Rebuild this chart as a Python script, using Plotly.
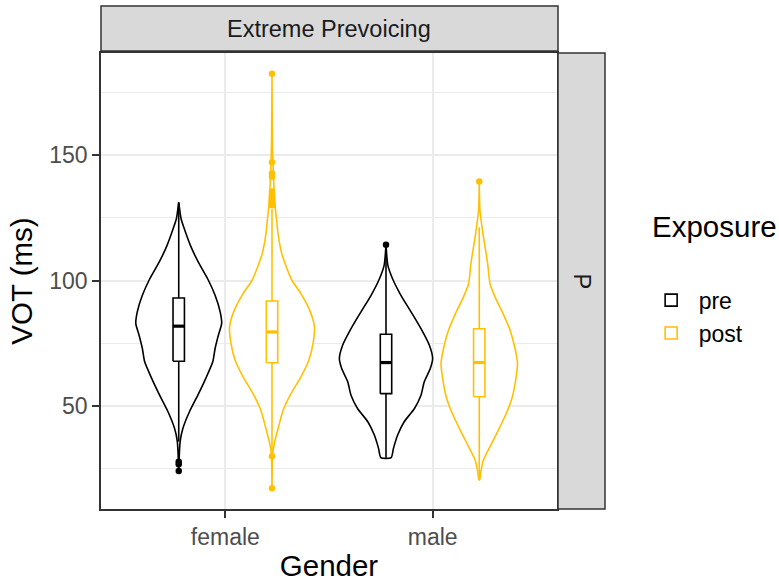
import plotly.graph_objects as go

# ---------------- data ----------------
genders = ["female", "male"]
exposures = ["pre", "post"]
line_colors = {"pre": "#000000", "post": "#FFC000"}

# violin outlines: VOT value (ms) and relative density (1 = widest violin)
female_pre_vot = [131.2, 124.6, 120.6, 114.0, 107.3, 100.7, 94.1, 87.4, 82.8, 78.2, 72.9, 67.6, 61.0, 54.3, 47.7, 41.1, 35.8, 24.1]
female_pre_den = [0.0, 0.05, 0.12, 0.25, 0.42, 0.62, 0.78, 0.89, 0.92, 0.85, 0.78, 0.73, 0.58, 0.41, 0.23, 0.09, 0.03, 0.0]

female_post_vot = [182.4, 150.4, 129.2, 123.9, 118.6, 110.7, 105.3, 100.0, 94.8, 88.1, 81.5, 74.9, 68.2, 61.6, 55.0, 48.4, 41.7, 35.1, 31.2, 17.2]
female_post_den = [0.0, 0.015, 0.07, 0.10, 0.13, 0.21, 0.31, 0.43, 0.62, 0.81, 0.91, 0.88, 0.79, 0.62, 0.41, 0.24, 0.14, 0.05, 0.015, 0.0]

male_pre_vot = [114.2, 106.0, 100.7, 94.1, 87.4, 80.8, 74.2, 68.9, 64.9, 59.6, 54.3, 49.0, 43.7, 38.4, 33.1, 29.4]
male_pre_den = [0.0, 0.04, 0.14, 0.32, 0.54, 0.75, 0.93, 1.0, 0.95, 0.82, 0.75, 0.61, 0.39, 0.25, 0.16, 0.11]

male_post_vot = [139.5, 127.9, 117.3, 106.7, 98.7, 93.4, 86.8, 80.2, 73.5, 66.9, 60.3, 53.7, 47.1, 40.4, 33.8, 28.5, 24.5, 20.5]
male_post_den = [0.0, 0.015, 0.09, 0.18, 0.23, 0.34, 0.51, 0.66, 0.76, 0.82, 0.78, 0.71, 0.58, 0.41, 0.23, 0.09, 0.04, 0.006]

# box statistics: [lower whisker, q1, median, q3, upper whisker]
female_pre_box = [35.8, 67.8, 81.8, 93.0, 130.8]
female_post_box = [31.0, 67.2, 79.5, 91.8, 128.5]
male_pre_box = [29.4, 54.9, 67.3, 78.6, 111.5]
male_post_box = [20.5, 53.7, 67.3, 80.8, 121.2]

# outliers
female_pre_out = [27.8, 26.8, 24.1]
female_post_out = [182.4, 147.1, 142.6, 141.3, 135.5, 134.3, 133.0, 131.5, 130.0, 30.0, 17.2]
male_pre_out = [114.2]
male_post_out = [139.5]

y_ticks = [50, 100, 150]
y_minor = [25, 75, 125, 175]

groups = {
    ("female", "pre"): (female_pre_vot, female_pre_den, female_pre_box, female_pre_out),
    ("female", "post"): (female_post_vot, female_post_den, female_post_box, female_post_out),
    ("male", "pre"): (male_pre_vot, male_pre_den, male_pre_box, male_pre_out),
    ("male", "post"): (male_post_vot, male_post_den, male_post_box, male_post_out),
}

# ---------------- styling ----------------
FONT = "Liberation Sans, Arial, sans-serif"
DODGE = {"pre": -0.225, "post": 0.225}
VIOLIN_HALF = 0.225
BOX_W = 0.055
LW = 1.6

fig = go.Figure()

def pos(g, e):
    return genders.index(g) + 1 + DODGE[e]

# legend box traces (drawn in the box layer, underneath the scatter layer)
for e in exposures:
    for g in genders:
        vot, den, box, out = groups[(g, e)]
        fig.add_trace(go.Box(x=[pos(g, e)], lowerfence=[box[0]], q1=[box[1]], median=[box[2]], q3=[box[3]],
                             upperfence=[box[4]], width=BOX_W, whiskerwidth=0, fillcolor="white",
                             line=dict(color=line_colors[e], width=LW), boxpoints=False,
                             name=e, legendgroup=e, showlegend=(g == "female"), hoverinfo="skip"))

# violins
for (g, e), (vot, den, box, out) in groups.items():
    c = pos(g, e)
    xs = [c + VIOLIN_HALF * d for d in den] + [c - VIOLIN_HALF * d for d in reversed(den)]
    ys = list(vot) + list(reversed(vot))
    xs.append(xs[0]); ys.append(ys[0])
    fig.add_trace(go.Scatter(x=xs, y=ys, mode="lines", fill="toself", fillcolor="white",
                             line=dict(color=line_colors[e], width=LW, shape="spline", smoothing=0.6),
                             showlegend=False, hoverinfo="skip"))

# boxplots drawn on top of violins
for (g, e), (vot, den, box, out) in groups.items():
    c = pos(g, e)
    col = line_colors[e]
    h = BOX_W / 2
    fig.add_trace(go.Scatter(x=[c, c, None, c, c], y=[box[0], box[1], None, box[3], box[4]], mode="lines",
                             line=dict(color=col, width=LW), showlegend=False, hoverinfo="skip"))
    fig.add_trace(go.Scatter(x=[c - h, c + h, c + h, c - h, c - h], y=[box[1], box[1], box[3], box[3], box[1]],
                             mode="lines", fill="toself", fillcolor="white",
                             line=dict(color=col, width=LW), showlegend=False, hoverinfo="skip"))
    fig.add_trace(go.Scatter(x=[c - h, c + h], y=[box[2], box[2]], mode="lines",
                             line=dict(color=col, width=3.2), showlegend=False, hoverinfo="skip"))
    fig.add_trace(go.Scatter(x=[c] * len(out), y=out, mode="markers",
                             marker=dict(color=col, size=6.5), showlegend=False))

all_vals = [v for k in groups for v in groups[k][0]]
lo, hi = min(all_vals), max(all_vals)
pad = (hi - lo) * 0.05

axis_common = dict(showline=True, linecolor="#333333", linewidth=1.5, mirror=True,
                   ticks="outside", ticklen=7, tickwidth=1.5, tickcolor="#333333",
                   showgrid=True, gridcolor="#EBEBEB", gridwidth=1.5, zeroline=False, automargin=False,
                   tickfont=dict(family=FONT, size=23, color="#4D4D4D"))

fig.update_layout(
    width=779, height=584,
    margin=dict(l=101, r=222, t=53, b=75),
    paper_bgcolor="white", plot_bgcolor="white",
    font=dict(family=FONT),
    xaxis=dict(range=[0.4, 2.6], tickmode="array", tickvals=[1, 2], ticktext=genders,
               title=dict(text="Gender", font=dict(family=FONT, size=29.5, color="#000000"), standoff=6),
               **axis_common),
    yaxis=dict(range=[lo - pad, hi + pad], tickmode="array", tickvals=y_ticks,
               minor=dict(tickvals=y_minor, showgrid=True, gridcolor="#EBEBEB", gridwidth=0.8, ticks=""),
               title=dict(text="VOT (ms)", font=dict(family=FONT, size=29.5, color="#000000"), standoff=8),
               **axis_common),
    legend=dict(x=1.19, xanchor="left", y=0.505, yanchor="top", bgcolor="rgba(0,0,0,0)",
                font=dict(family=FONT, size=23, color="#000000"), traceorder="normal", itemwidth=45),
    showlegend=True,
)

# facet strips
fig.add_shape(type="rect", xref="x domain", yref="y domain", x0=0, x1=(558 - 101) / 456,
              y0=1.0044, y1=(509 - 6) / 456, fillcolor="#D9D9D9", line=dict(color="#333333", width=1.5))
fig.add_shape(type="rect", xref="x domain", yref="y domain", x0=(558 - 101) / 456, x1=(605 - 101) / 456,
              y0=0, y1=1, fillcolor="#D9D9D9", line=dict(color="#333333", width=1.5))
fig.add_annotation(text="Extreme Prevoicing", xref="x domain", yref="y domain", x=0.5, y=(509 - 29) / 456,
                   showarrow=False, xanchor="center", yanchor="middle",
                   font=dict(family=FONT, size=23.5, color="#1A1A1A"))
fig.add_annotation(text="P", xref="x domain", yref="y domain", x=(581.5 - 101) / 456, y=0.5,
                   showarrow=False, textangle=90, xanchor="center", yanchor="middle",
                   font=dict(family=FONT, size=23.5, color="#1A1A1A"))
fig.add_annotation(text="Exposure", xref="x domain", yref="y domain", x=(650 - 101) / 456, y=(509 - 226) / 456,
                   showarrow=False, xanchor="left", yanchor="middle",
                   font=dict(family=FONT, size=29.5, color="#000000"))

fig.write_html("out.html")
